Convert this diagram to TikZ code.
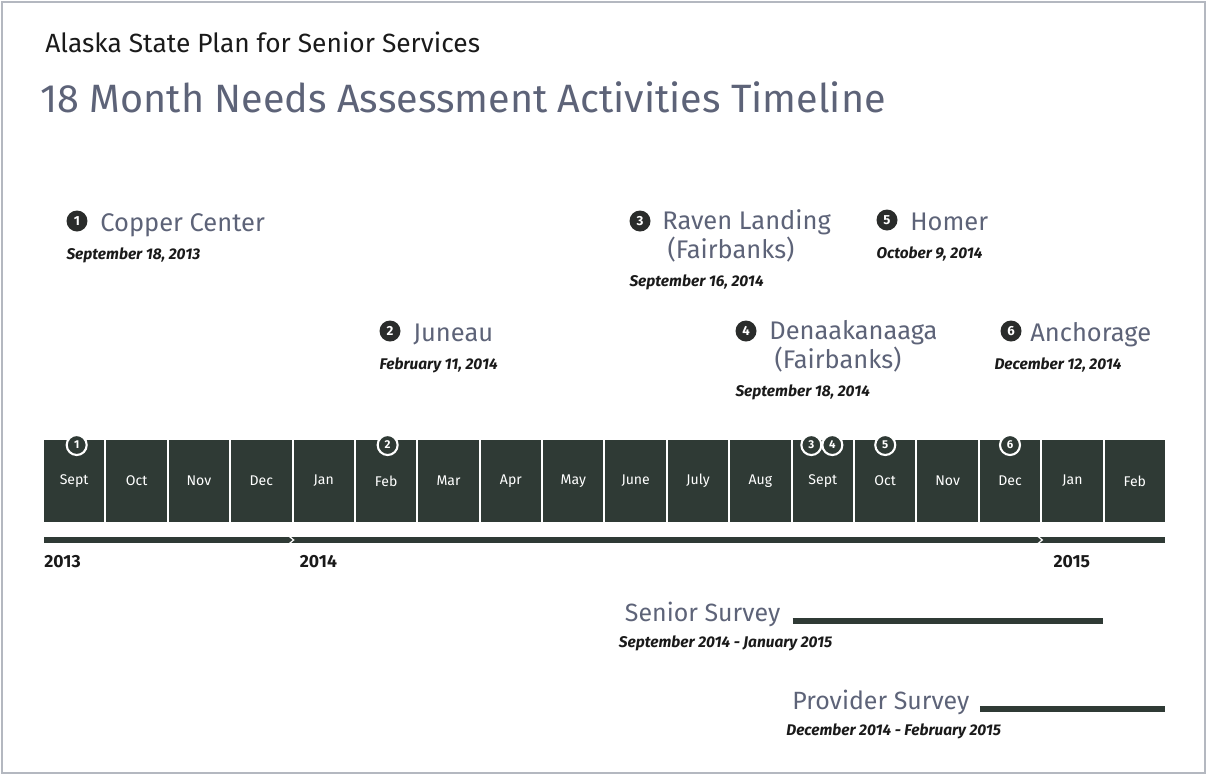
\documentclass[tikz,border=0pt]{standalone}
\usepackage{fontspec}
\setmainfont{Fira Sans}
\usetikzlibrary{positioning}

\definecolor{barcol}{HTML}{2F3A35}
\definecolor{badgecol}{HTML}{2A2C2B}
\definecolor{labelcol}{HTML}{5D6378}
\definecolor{datecol}{HTML}{1A1A1A}
\definecolor{framecol}{HTML}{B4B8C0}

\begin{document}
\begin{tikzpicture}[x=0.02cm,y=-0.02cm,node distance=0.04cm]
  \tikzstyle{month}=[fill=barcol,draw=none,text=white,minimum width=1.208cm,outer sep=0pt,
                     minimum height=1.64cm,inner sep=0pt,font=\fontsize{8}{10}\selectfont]
  \tikzstyle{marker}=[circle,fill=barcol,draw=white,line width=1.2pt,minimum size=0.4cm,
                      inner sep=0pt,text=white,font=\fontsize{6.5}{7}\bfseries\selectfont]
  \tikzstyle{badge}=[circle,fill=badgecol,draw=none,minimum size=0.42cm,inner sep=0pt,
                     text=white,font=\fontsize{7.5}{8}\bfseries\selectfont]
  \tikzstyle{place}=[inner sep=0pt,text=labelcol,align=left,text depth=4pt,
                     font=\fontsize{14.5}{14.8}\selectfont]
  \tikzstyle{datelbl}=[anchor=north west,inner sep=0pt,text=datecol,
                       font=\fontsize{8.8}{10}\bfseries\itshape\selectfont]
  \tikzstyle{year}=[anchor=north west,inner sep=0pt,text=datecol,
                    font=\fontsize{10}{12}\bfseries\selectfont]
  \tikzstyle{yearbar}=[draw=barcol,line width=3.2pt]
  \tikzstyle{surveybar}=[draw=barcol,line width=3.2pt]
  \tikzstyle{survey}=[inner sep=0pt,text=labelcol,font=\fontsize{14.2}{16}\selectfont]

  \useasboundingbox (0,0) rectangle (1207,775);
  \draw[framecol,line width=0.8pt] (2,2) rectangle (1205,773);

  % headings
  \node[inner sep=0pt,anchor=base west,text=datecol,font=\fontsize{15}{18}\selectfont]
       (Plan) at (45,52) {Alaska State Plan for Senior Services};
  \node[inner sep=0pt,anchor=base west,text=labelcol,font=\fontsize{22.5}{28}\selectfont]
       (Title) at (40,112) {18 Month Needs Assessment Activities Timeline};

  % months
  \node[month] (Sep13) at (74.2,481) {Sept};
  \node[month] (Oct13) [right=of Sep13] {Oct};
  \node[month] (Nov13) [right=of Oct13] {Nov};
  \node[month] (Dec13) [right=of Nov13] {Dec};
  \node[month] (Jan14) [right=of Dec13] {Jan};
  \node[month] (Feb14) [right=of Jan14] {Feb};
  \node[month] (Mar14) [right=of Feb14] {Mar};
  \node[month] (Apr14) [right=of Mar14] {Apr};
  \node[month] (May14) [right=of Apr14] {May};
  \node[month] (Jun14) [right=of May14] {June};
  \node[month] (Jul14) [right=of Jun14] {July};
  \node[month] (Aug14) [right=of Jul14] {Aug};
  \node[month] (Sep14) [right=of Aug14] {Sept};
  \node[month] (Oct14) [right=of Sep14] {Oct};
  \node[month] (Nov14) [right=of Oct14] {Nov};
  \node[month] (Dec14) [right=of Nov14] {Dec};
  \node[month] (Jan15) [right=of Dec14] {Jan};
  \node[month] (Feb15) [right=of Jan15] {Feb};

  % visit markers on the months
  \node[marker] (M1) at ([xshift=0.05cm,yshift=-0.1cm]Sep13.north) {1};
  \node[marker] (M2) at ([xshift=0.03cm,yshift=-0.1cm]Feb14.north) {2};
  \node[marker] (M3) at ([xshift=-0.23cm,yshift=-0.1cm]Sep14.north) {3};
  \node[marker] (M4) at ([xshift=0.19cm,yshift=-0.1cm]Sep14.north) {4};
  \node[marker] (M5) at ([yshift=-0.1cm]Oct14.north) {5};
  \node[marker] (M6) at ([yshift=-0.1cm]Dec14.north) {6};

  % years
  \coordinate (Y13a) at ([yshift=-0.36cm]Sep13.south west);
  \coordinate (Y13b) at ([yshift=-0.36cm]Dec13.south east);
  \coordinate (Y14a) at ([yshift=-0.36cm]Jan14.south west);
  \coordinate (Y14b) at ([yshift=-0.36cm]Dec14.south east);
  \coordinate (Y15a) at ([yshift=-0.36cm]Jan15.south west);
  \coordinate (Y15b) at ([yshift=-0.36cm]Feb15.south east);
  \draw[yearbar] (Y13a) -- (Y15b);
  \draw[white,line width=0.7pt] ([xshift=-1.5pt,yshift=2.2pt]Y13b) -- ([xshift=1.2pt]Y13b)
                                -- ([xshift=-1.5pt,yshift=-2.2pt]Y13b);
  \draw[white,line width=0.7pt] ([xshift=-1.5pt,yshift=2.2pt]Y14b) -- ([xshift=1.2pt]Y14b)
                                -- ([xshift=-1.5pt,yshift=-2.2pt]Y14b);
  \node[year] (Yr13) at ([yshift=-0.3cm]Y13a) {2013};
  \node[year] (Yr14) at ([xshift=0.12cm,yshift=-0.3cm]Y14a) {2014};
  \node[year] (Yr15) at ([xshift=0.22cm,yshift=-0.3cm]Y15a) {2015};

  % visits
  \node[badge] (B1) at (77,221) {1};
  \node[place,anchor=base west] (Copper) at ([xshift=0.46cm,yshift=-0.2cm]B1.center) {Copper Center};
  \node[datelbl,yshift=-5pt] (D1) at (B1.west |- Copper.south) {September 18, 2013};

  \node[badge] (B2) at (390,331) {2};
  \node[place,anchor=base west] (Juneau) at ([xshift=0.46cm,yshift=-0.2cm]B2.center) {Juneau};
  \node[datelbl,yshift=-5pt] (D2) at (B2.west |- Juneau.south) {February 11, 2014};

  \node[badge] (B3) at (640,221) {3};
  \node[place,anchor=base west] (Raven) at ([xshift=0.44cm,yshift=-0.74cm]B3.center)
       {Raven Landing\\\hspace{3pt}(Fairbanks)};
  \node[datelbl,yshift=-5pt] (D3) at (B3.west |- Raven.south) {September 16, 2014};

  \node[badge] (B4) at (746,331) {4};
  \node[place,anchor=base west] (Denaak) at ([xshift=0.46cm,yshift=-0.74cm]B4.center)
       {Denaakanaaga\\\hspace{3pt}(Fairbanks)};
  \node[datelbl,yshift=-5pt] (D4) at (B4.west |- Denaak.south) {September 18, 2014};

  \node[badge] (B5) at (887,220) {5};
  \node[place,anchor=base west] (Homer) at ([xshift=0.46cm,yshift=-0.2cm]B5.center) {Homer};
  \node[datelbl,yshift=-5pt] (D5) at (B5.west |- Homer.south) {October 9, 2014};

  \node[badge] (B6) at (1011,331) {6};
  \node[place,anchor=base west] (Anchor) at ([xshift=0.38cm,yshift=-0.2cm]B6.center) {Anchorage};
  \node[datelbl,yshift=-5pt] (D6) at ([xshift=-0.12cm]B6.west |- Anchor.south) {December 12, 2014};

  % surveys
  \coordinate (SrA) at (Sep14.west |- 0,621);
  \coordinate (SrB) at (Jan15.east |- 0,621);
  \draw[surveybar] (SrA) -- (SrB);
  \node[survey,anchor=base east] (Senior) at ([xshift=-0.24cm]SrA) {Senior Survey};
  \node[datelbl,yshift=-5pt] (SrDate) at ([xshift=-0.12cm]Senior.south west) {September 2014 - January 2015};

  \coordinate (PrA) at (Dec14.west |- 0,709);
  \coordinate (PrB) at (Feb15.east |- 0,709);
  \draw[surveybar] (PrA) -- (PrB);
  \node[survey,anchor=base east] (Provider) at ([xshift=-0.2cm]PrA) {Provider Survey};
  \node[datelbl,yshift=-5pt] (PrDate) at ([xshift=-0.12cm]Provider.south west) {December 2014 - February 2015};
\end{tikzpicture}
\end{document}
